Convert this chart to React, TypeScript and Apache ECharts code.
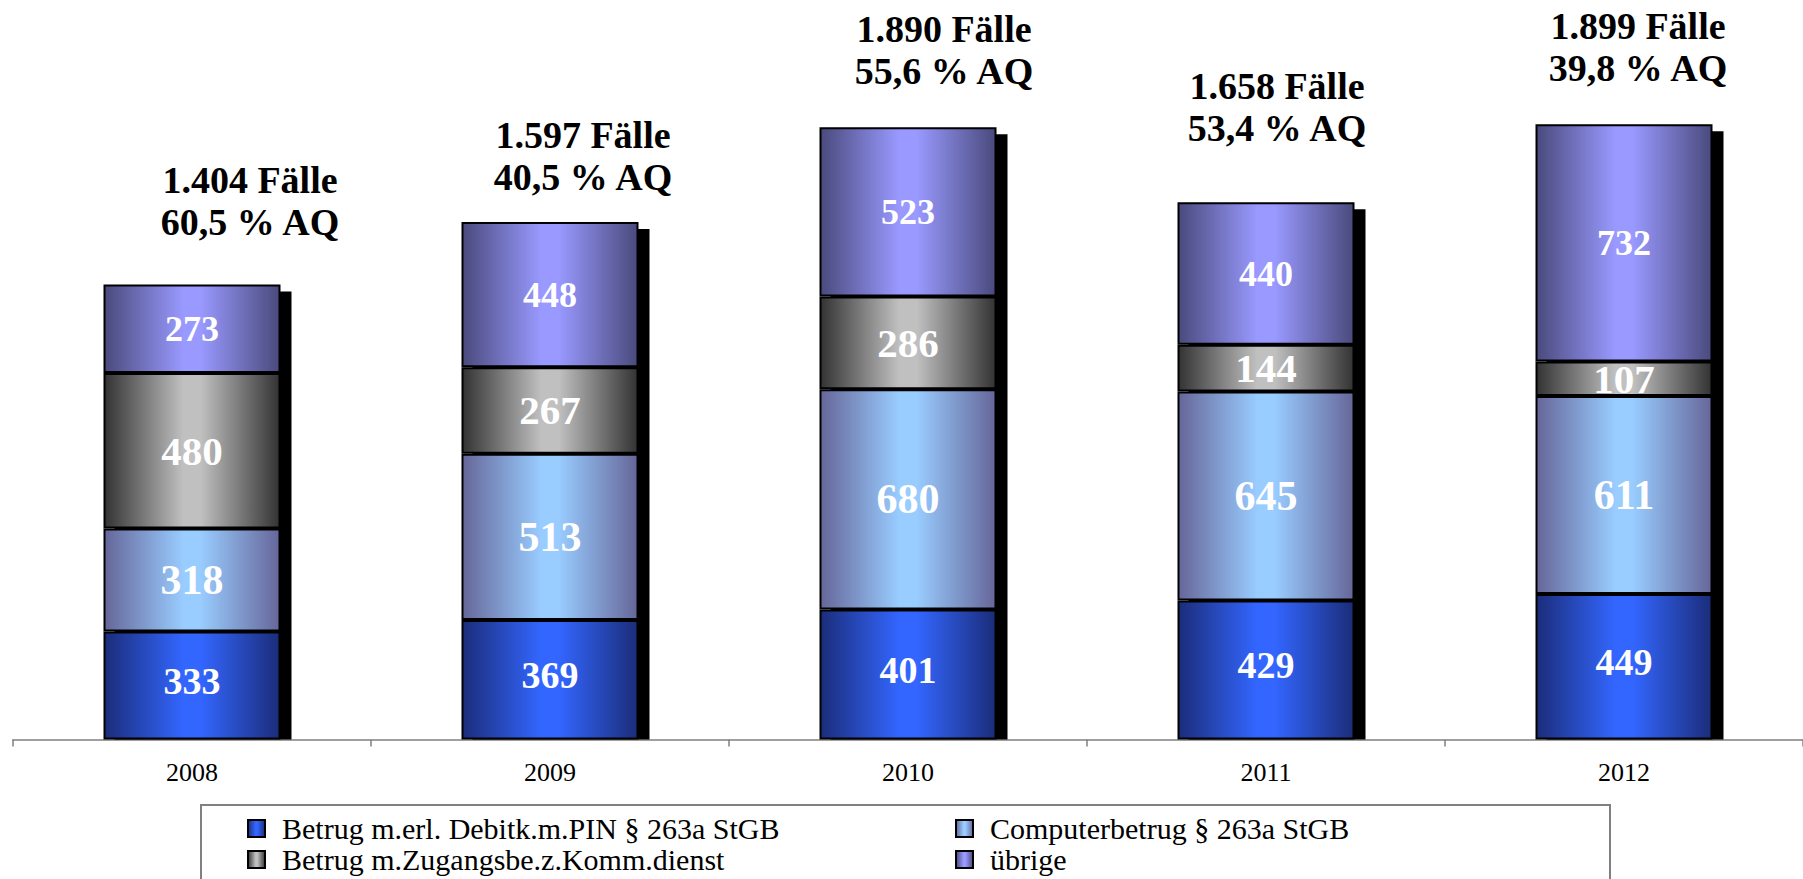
import React, { useEffect, useRef } from "react";
import * as echarts from "echarts";

// ---- data ----
const years = ["2008", "2009", "2010", "2011", "2012"];
const seriesNames = [
  "Betrug m.erl. Debitk.m.PIN § 263a StGB",
  "Computerbetrug § 263a StGB",
  "Betrug m.Zugangsbe.z.Komm.dienst",
  "übrige",
];
const debitPin = [333, 369, 401, 429, 449];
const computerbetrug = [318, 513, 680, 645, 611];
const zugangsbetrug = [480, 267, 286, 144, 107];
const uebrige = [273, 448, 523, 440, 732];
const cases = [1404, 1597, 1890, 1658, 1899];
const aqRate = [60.5, 40.5, 55.6, 53.4, 39.8];

// ---- layout / style constants ----
const topLabelOffsets = [
  [58, -84],
  [33, -66],
  [36, -77],
  [11, -95],
  [14, -77],
];
const BAR_W = 177;
const SHADOW_DX = 11;
const SHADOW_DY = 7;
const SERIF = "Liberation Serif";

const grad = (dark: string, light: string) => ({
  type: "linear",
  x: 0,
  y: 0,
  x2: 1,
  y2: 0,
  colorStops: [
    { offset: 0, color: dark },
    { offset: 0.45, color: light },
    { offset: 0.55, color: light },
    { offset: 1, color: dark },
  ],
});

const palettes = [
  grad("#1b2d7a", "#3366ff"),
  grad("#666699", "#99ccff"),
  grad("#333333", "#c0c0c0"),
  grad("#4a4a7d", "#9999ff"),
];
const labelSizes = [38, 42, 41, 36];
const labelShift = [-5, 0, 0, 0];
const seriesData = [debitPin, computerbetrug, zugangsbetrug, uebrige];

const fmtCases = (n: number) =>
  Math.floor(n / 1000) + "." + String(n % 1000).padStart(3, "0");
const fmtRate = (r: number) => r.toFixed(1).replace(".", ",");

export default function App() {
  const ref = useRef<HTMLDivElement>(null);
  useEffect(() => {
    if (!ref.current) return;
    const chart = echarts.init(ref.current, undefined, { renderer: "svg" });

    const barSeries = seriesNames.map((name, s) => ({
      name,
      type: "bar",
      stack: "total",
      barWidth: BAR_W,
      z: 2,
      data: seriesData[s],
      itemStyle: {
        color: palettes[s],
        borderColor: "#000",
        borderWidth: 2,
      },
      label: {
        show: true,
        position: "inside",
        color: "#fff",
        fontFamily: SERIF,
        fontWeight: "bold",
        fontSize: labelSizes[s],
        offset: [0, labelShift[s]],
      },
    }));

    const legendCommon = {
      orient: "vertical",
      top: 813,
      padding: 0,
      itemGap: 0,
      itemWidth: 17,
      itemHeight: 17,
      icon: "rect",
      textStyle: {
        fontFamily: SERIF,
        fontSize: 30,
        color: "#000",
        lineHeight: 31,
        padding: [0, 0, 0, 12],
      },
    };

    chart.setOption({
      animation: false,
      backgroundColor: "#fff",
      grid: { left: 13, top: 91.5, width: 1795, height: 648 },
      xAxis: {
        type: "category",
        data: years,
        axisLine: { lineStyle: { color: "#808080", width: 1.5 } },
        axisTick: { show: true, length: 7, lineStyle: { color: "#808080", width: 1.5 } },
        axisLabel: {
          fontFamily: SERIF,
          fontSize: 26,
          color: "#000",
          margin: 20,
        },
      },
      yAxis: { type: "value", min: 0, max: 2000, show: false },
      legend: [
        { ...legendCommon, left: 247, data: [seriesNames[0], seriesNames[2]] },
        { ...legendCommon, left: 955, data: [seriesNames[1], seriesNames[3]] },
      ],
      graphic: [
        {
          type: "rect",
          shape: { x: 201, y: 805, width: 1409, height: 120 },
          style: { fill: "none", stroke: "#808080", lineWidth: 2 },
          silent: true,
        },
      ],
      series: [
        {
          name: "Fälle",
          type: "custom",
          z: 1,
          clip: false,
          data: cases.map((c, i) => [i, c]),
          encode: { x: 0, y: 1 },
          renderItem: (params: any, api: any) => {
            const i = api.value(0);
            const total = api.value(1);
            const top = api.coord([i, total]);
            const base = api.coord([i, 0]);
            const off = topLabelOffsets[params.dataIndex];
            return {
              type: "group",
              children: [
                {
                  type: "rect",
                  shape: {
                    x: top[0] - BAR_W / 2 + SHADOW_DX,
                    y: top[1] + SHADOW_DY,
                    width: BAR_W,
                    height: base[1] - top[1] - SHADOW_DY,
                  },
                  style: { fill: "#000" },
                },
                {
                  type: "text",
                  x: top[0] + off[0],
                  y: top[1] + off[1],
                  style: {
                    text:
                      fmtCases(cases[params.dataIndex]) +
                      " Fälle\n" +
                      fmtRate(aqRate[params.dataIndex]) +
                      " % AQ",
                    fill: "#000",
                    fontFamily: SERIF,
                    fontWeight: "bold",
                    fontSize: 38,
                    lineHeight: 42,
                    align: "center",
                    verticalAlign: "middle",
                  },
                },
              ],
            };
          },
        },
        ...barSeries,
      ],
    });
    return () => chart.dispose();
  }, []);

  return (
    <div
      ref={ref}
      style={{ position: "fixed", left: 0, top: 0, width: 1803, height: 879 }}
    />
  );
}
